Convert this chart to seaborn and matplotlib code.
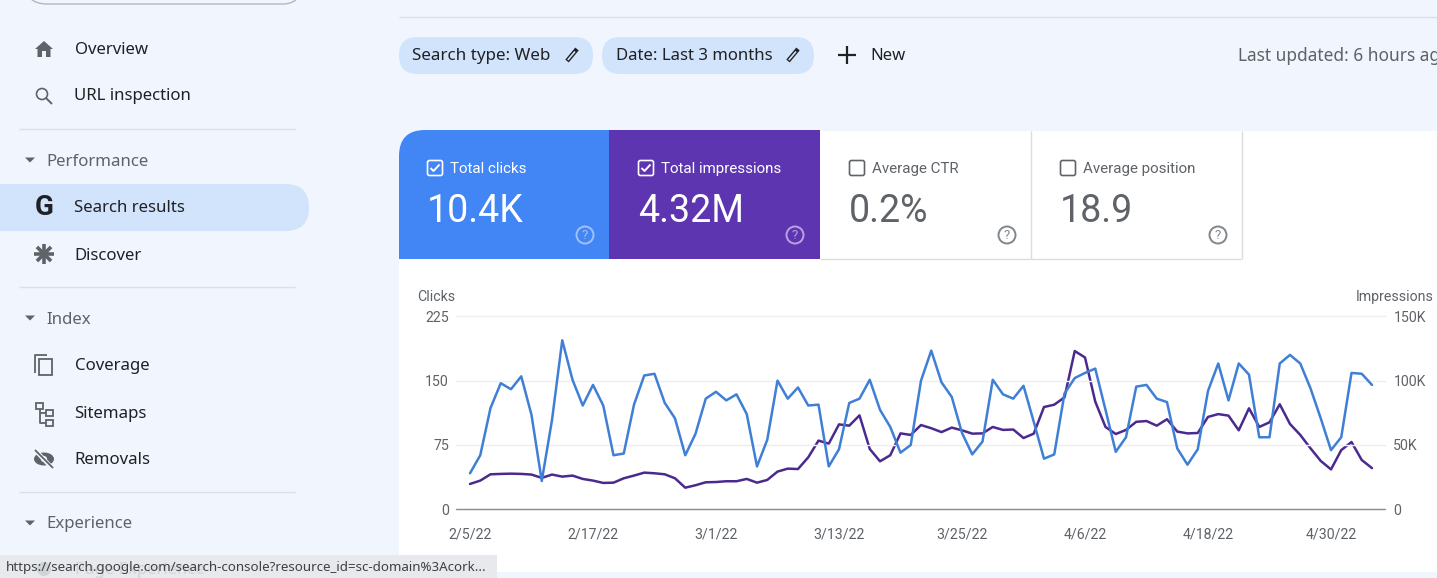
import numpy as np
import pandas as pd
import matplotlib
matplotlib.use('Agg')
import matplotlib.pyplot as plt
from matplotlib.patches import Circle, Ellipse, FancyBboxPatch, PathPatch, Polygon, Rectangle
from matplotlib.path import Path
import seaborn as sns

# values
clicks = [42, 63, 118, 147, 140, 155, 110, 33, 104, 197, 151, 121, 145, 121, 63,
          65, 122, 156, 158, 124, 106, 63, 88, 129, 137, 127, 134, 111, 50, 81,
          150, 129, 142, 121, 122, 50, 70, 124, 129, 151, 116, 96, 66, 75, 150,
          185, 148, 131, 89, 64, 79, 151, 134, 129, 144, 102, 59, 64, 135, 153,
          159, 164, 116, 67, 84, 143, 145, 129, 125, 71, 52, 70, 138, 170, 127,
          170, 157, 84, 84, 170, 180, 170, 141, 106, 69, 84, 159, 158, 145]
impressions = [19.7, 22.3, 27.2, 27.5, 27.7, 27.5, 27, 24.4, 27, 25.4, 26.2, 23.6,
               22.3, 20.5, 20.7, 24.1, 26.2, 28.5, 28, 27.2, 24.1, 16.8, 18.7, 21,
               21.2, 21.8, 21.8, 23.6, 20.7, 22.8, 29.3, 31.6, 31.3, 40.4, 53.4, 51,
               66, 65, 73, 46.9, 37.3, 42, 59, 57.8, 65.5, 63, 60, 63.5, 61.4, 58.8,
               59, 64, 61.7, 62, 55.4, 58.8, 79.5, 81.3, 87, 123, 118, 83.7, 64, 58.5,
               61.7, 68, 68.6, 65, 70, 60.4, 59, 59.3, 71.8, 74, 72.8, 61.4, 78.5, 64,
               67.6, 81.6, 66.3, 57.8, 47.4, 37.6, 31, 46, 52.3, 38.3, 32]
tick_dates = ['2022-02-05', '2022-02-17', '2022-03-01', '2022-03-13',
              '2022-03-25', '2022-04-06', '2022-04-18', '2022-04-30']
tick_labels = ['2/5/22', '2/17/22', '3/1/22', '3/13/22',
               '3/25/22', '4/6/22', '4/18/22', '4/30/22']
clicks_ticks = [0, 75, 150, 225]
impressions_ticks = [0, 50, 100, 150]
impressions_labels = ['0', '50K', '100K', '150K']

nav_items = ['Overview', 'URL inspection', 'Search results', 'Discover',
             'Coverage', 'Sitemaps', 'Removals']
nav_headers = ['Performance', 'Index', 'Experience']

BG = '#f1f5fd'
HILITE = '#d2e3fc'
DARK = '#202124'
GREY = '#5f6368'
BLUE = '#4285f4'
PURPLE = '#5e35b1'
UI_FONT = 'Noto Sans'
CARD_FONT = 'Roboto'

sns.set_theme(style='white')
plt.rcParams['font.family'] = [CARD_FONT, 'DejaVu Sans']

fig = plt.figure(figsize=(14.37, 5.78), dpi=100, facecolor=BG)
W, H = 1437, 578


def add_px_axes(x0, y0, x1, y1):
    return fig.add_axes([x0 / W, 1 - y1 / H, (x1 - x0) / W, (y1 - y0) / H])


ui = add_px_axes(0, 0, W, H)
ui.set_xlim(0, W)
ui.set_ylim(H, 0)
ui.axis('off')


def label(x, y, s, size=12.1, color=DARK, font=UI_FONT, ha='left', **kw):
    ui.text(x, y, s, fontsize=size, color=color, family=font, ha=ha, va='center', **kw)


def pill(x0, y0, x1, y1, color, z=1):
    r = (y1 - y0) / 2
    ui.add_patch(FancyBboxPatch((x0 + r, y0 + r), x1 - x0 - 2 * r, 0.01,
                                boxstyle='round,pad=%f,rounding_size=%f' % (r, r),
                                fc=color, ec='none', zorder=z))


def top_left_round(x0, y0, x1, y1, r, color, z=1):
    verts = [(x0, y1), (x0, y0 + r), (x0, y0), (x0 + r, y0), (x1, y0), (x1, y1), (x0, y1)]
    codes = [Path.MOVETO, Path.LINETO, Path.CURVE3, Path.CURVE3, Path.LINETO, Path.LINETO, Path.CLOSEPOLY]
    ui.add_patch(PathPatch(Path(verts, codes), fc=color, ec='none', zorder=z))


def line(xs, ys, color=GREY, lw=1.0, z=3, cap='butt'):
    ui.plot(xs, ys, color=color, lw=lw, zorder=z, solid_capstyle=cap)


def checkbox(x, y, color, checked):
    ui.add_patch(FancyBboxPatch((x + 2, y + 2), 12, 12, boxstyle='round,pad=1.5,rounding_size=2',
                                fc='none', ec=color, lw=1.2, zorder=4))
    if checked:
        line([x + 3.5, x + 6.5, x + 12.5], [y + 8, y + 11, y + 4.5], color, 1.4, 5)


def help_icon(x, y, color):
    ui.add_patch(Circle((x, y), 8.5, fc='none', ec=color, lw=1.4, zorder=4))
    ui.text(x, y + 0.5, '?', fontsize=9.5, color=color, family=CARD_FONT, ha='center', va='center', zorder=5)


def pencil(x, y):
    ui.plot([x - 5, x + 5], [y + 6, y - 6], color=DARK, lw=3.2, zorder=4, solid_capstyle='butt')
    ui.plot([x - 4.2, x + 3], [y + 5, y - 3.5], color=HILITE, lw=1.2, zorder=5, solid_capstyle='butt')


def caret(x, y):
    ui.add_patch(Polygon([(x - 5, y - 2.5), (x + 5, y - 2.5), (x, y + 2.5)], fc=GREY, ec='none', zorder=3))


# sidebar
ui.add_patch(FancyBboxPatch((25, -50), 280, 54, boxstyle='round,pad=0,rounding_size=22',
                            fc='none', ec='#b4b8bd', lw=1))
for y in [129, 287, 492]:
    line([19, 295], [y, y], '#dcdfe4', 1)
pill(-40, 184, 309, 231, HILITE)
nav_y = [48, 95, 207, 254, 365, 412, 459]
for s, y in zip(nav_items, nav_y):
    label(74.5, y + 1.5, s)
for s, y in zip(nav_headers, [160, 318, 523]):
    label(46.5, y + 1.5, s, color=GREY)
    caret(30, y)

# home
ui.add_patch(Polygon([(35, 49), (44, 41), (53, 49), (50.5, 49), (50.5, 57), (46, 57), (46, 51),
                      (42, 51), (42, 57), (37.5, 57), (37.5, 49)], fc=GREY, ec='none'))
# magnifier
ui.add_patch(Circle((42, 94), 5.5, fc='none', ec=GREY, lw=1.2))
line([46, 52], [98, 104], GREY, 1.4)
# G logo
ui.text(44, 207.5, 'G', fontsize=20, fontweight='bold', color=DARK, family='Roboto', ha='center', va='center')
# discover star
for a in [0, 45, 90, 135]:
    dx, dy = 10 * np.cos(np.radians(a)), 10 * np.sin(np.radians(a))
    line([44 - dx, 44 + dx], [254 - dy, 254 + dy], GREY, 2.6)
# coverage
ui.add_patch(Rectangle((39, 359), 13, 16, fc=BG, ec=GREY, lw=1.3, zorder=3))
line([35, 35, 47], [373, 355, 355], GREY, 1.3)
# sitemaps
for bx, by, bw in [(36, 403, 7), (46, 410, 7), (46, 420, 7)]:
    ui.add_patch(Rectangle((bx, by), bw, 6, fc='none', ec=GREY, lw=1.3))
line([40, 40, 46], [409, 423, 423], GREY, 1.3)
line([40, 46], [413, 413], GREY, 1.3)
# eye off
ui.add_patch(Ellipse((44, 459), 20, 13, fc=GREY, ec='none'))
ui.add_patch(Circle((44, 459), 3, fc=BG, ec='none', zorder=3))
line([36, 52], [451, 468], BG, 3.2, 4)
line([35, 53], [450, 468], GREY, 1.3, 5)

# header bits
line([399, W], [17, 17], '#dcdfe4', 1)
pill(399, 37, 593, 74, HILITE)
pill(602, 37, 814, 74, HILITE)
label(412, 56, 'Search type: Web', 12.25)
label(616, 56, 'Date: Last 3 months', 12.05)
pencil(572, 55)
pencil(793, 55)
line([838, 856], [55, 55], DARK, 1.6)
line([847, 847], [46, 64], DARK, 1.6)
label(870, 56, 'New', 12)
label(1238, 56, 'Last updated: 6 hours ago', 12.45, GREY, clip_on=True)

# white panel and scorecards
top_left_round(399, 131, W, 572, 26, 'white', 1)
top_left_round(399, 130, 609, 259, 26, BLUE, 2)
ui.add_patch(Rectangle((609, 130), 211, 129, fc=PURPLE, ec='none', zorder=2))
line([820, 1241], [259, 259], '#dadce0', 1)
line([1030.5, 1030.5], [131, 259], '#dadce0', 1)
line([1241.5, 1241.5], [131, 259], '#dadce0', 1)

checkbox(427, 160, 'white', True)
checkbox(638, 160, 'white', True)
checkbox(849, 160, GREY, False)
checkbox(1060, 160, GREY, False)
z = {'zorder': 5}
label(450, 169, 'Total clicks', 10.9, 'white', CARD_FONT, **z)
label(661, 169, 'Total impressions', 10.9, 'white', CARD_FONT, **z)
label(872, 169, 'Average CTR', 10.9, GREY, CARD_FONT, **z)
label(1083, 169, 'Average position', 10.9, GREY, CARD_FONT, **z)
label(427, 212, '10.4K', 27, 'white', CARD_FONT, **z)
label(638, 212, '4.32M', 27, 'white', CARD_FONT, **z)
label(849, 212, '0.2%', 27, GREY, CARD_FONT, **z)
label(1060, 212, '18.9', 27, GREY, CARD_FONT, **z)
help_icon(585, 235, '#a0c3fa')
help_icon(795, 235, '#b9a3e3')
help_icon(1007, 235, '#80868b')
help_icon(1218, 235, '#80868b')

label(417, 297, 'Clicks', 10.2, GREY, CARD_FONT)
label(1356, 297, 'Impressions', 10.2, GREY, CARD_FONT)

# status bar
ui.add_patch(Rectangle((0, 555), 497, 30, fc='#e7e9ed', ec='none', zorder=6))
label(75, 570, 'Page Experience', color='#d0d3d7', zorder=7)
ui.add_patch(Circle((44, 569), 7, fc='#d0d3d7', ec='none', zorder=7))
label(6, 568, 'https://search.google.com/search-console?resource_id=sc-domain%3Acork...',
      9.6, '#3c4043', UI_FONT, zorder=8)

# the chart itself
df = pd.DataFrame({'date': pd.date_range('2022-02-05', periods=len(clicks)),
                   'clicks': clicks, 'impressions': impressions})
ax = add_px_axes(456, 316.3, 1385, 509.3)
ax2 = ax.twinx()
ax.set_zorder(ax2.get_zorder() + 1)
ax.patch.set_visible(False)
ax2.patch.set_visible(False)

sns.lineplot(data=df, x='date', y='impressions', ax=ax2, color='#4b2a8f', linewidth=1.8)
sns.lineplot(data=df, x='date', y='clicks', ax=ax, color='#3f7fd6', linewidth=1.8)

px_per_day = 10.25
ax.set_xlim(df['date'].iloc[0] - pd.Timedelta(days=14 / px_per_day),
            df['date'].iloc[0] + pd.Timedelta(days=915 / px_per_day))
ax.set_ylim(0, 225)
ax2.set_ylim(0, 150)
ax.set_xticks(pd.to_datetime(tick_dates))
ax.set_xticklabels(tick_labels)
ax.set_yticks(clicks_ticks)
ax2.set_yticks(impressions_ticks)
ax2.set_yticklabels(impressions_labels)
ax.set_xlabel('')
ax.set_ylabel('')
ax2.set_xlabel('')
ax2.set_ylabel('')
ax.tick_params(axis='x', length=0, pad=13, labelsize=10.2, labelcolor=GREY)
ax.tick_params(axis='y', length=0, pad=5, labelsize=10.2, labelcolor=GREY)
ax2.tick_params(axis='y', length=0, pad=6, labelsize=10.2, labelcolor=GREY)
ax.grid(axis='y', color='#eceef1', linewidth=1, clip_on=False)
ax.axhline(0, color='#8a8d91', linewidth=1, clip_on=False)
for a in (ax, ax2):
    sns.despine(ax=a, left=True, right=True, top=True, bottom=True)

fig.savefig('out.png', dpi=100, facecolor=BG)
